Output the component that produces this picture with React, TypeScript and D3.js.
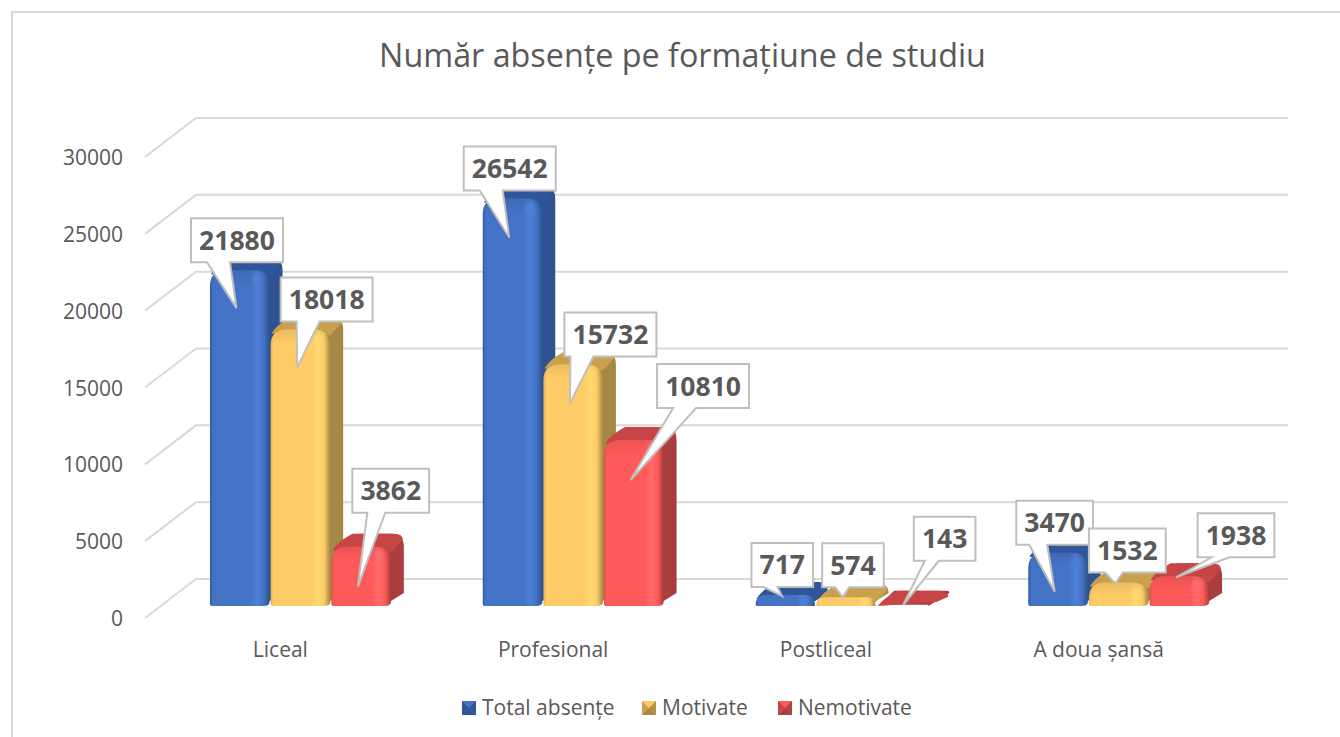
import React from 'react';
import * as d3 from 'd3';

const categories = ['Liceal', 'Profesional', 'Postliceal', 'A doua șansă'];
const seriesNames = ['Total absențe', 'Motivate', 'Nemotivate'];
const totalAbsente = [21880, 26542, 717, 3470];
const motivate = [18018, 15732, 574, 1532];
const nemotivate = [3862, 10810, 143, 1938];
const seriesValues = [totalAbsente, motivate, nemotivate];
const yTicks = [0, 5000, 10000, 15000, 20000, 25000, 30000];

// colours per series: front, side, top, highlight, dark edge
const palette = [
  { front: '#4472c4', side: '#2f5290', top: '#30569a', light: '#4f80d8', edge: '#2f5aa5' },
  { front: '#ffcb66', side: '#a58844', top: '#c9a04e', light: '#ffd970', edge: '#e6b152' },
  { front: '#ff5a5a', side: '#a83e3e', top: '#c64646', light: '#ff6c6c', edge: '#e04c4c' },
];

// callout placement relative to each bar's front top-left corner:
// box left, box top, pointer base left, tip y. Rows follow series, columns categories.
const calloutOffsets = [
  [[-19, -52, -3, 38], [-19, -52, -3, 39], [-4, -52, 8, 1], [-12, -52, 1, 39]],
  [[10, -52, 26, 38], [21, -52, 27, 39], [6, -54, 19, 0], [0, -54, 16, 1]],
  [[21, -78, 36, 40], [53, -76, 69, 40], [37, -87, 48, 1], [48, -63, 62, 1]],
];

const font = '"Open Sans", "Noto Sans", sans-serif';
const textColor = '#595959';
const gridColor = '#d9d9d9';
const depthX = 15;
const depthY = 13;

const x0 = d3.scaleBand<string>().domain(categories).range([145, 1236]);
const yFront = d3.scaleLinear().domain([0, 30000]).range([618, 157]);
const yBar = d3.scaleLinear().domain([0, 30000]).range([606, 145.5]);
const wallDx = 51;
const wallDy = 39;

function barLeft(c: number, s: number) {
  const start = (x0(categories[c]) as number) + 65;
  const x1 = d3.scaleBand<string>().domain(seriesNames).range([start, start + 182]);
  return x1(seriesNames[s]) as number;
}
const barWidth = 59.5;

// front face with rounded top corners
function frontPath(x: number, top: number, w: number, base: number) {
  const r = Math.min(16, Math.max(base - top, 0.5));
  const p = d3.path();
  p.moveTo(x, base - 2);
  p.lineTo(x, top + r);
  p.quadraticCurveTo(x, top, x + r, top);
  p.lineTo(x + w - r, top);
  p.quadraticCurveTo(x + w, top, x + w, top + r);
  p.lineTo(x + w, Math.max(base - 3, top + r));
  p.quadraticCurveTo(x + w - 1, base, x + w - 6, base);
  p.lineTo(x + 3, base);
  p.quadraticCurveTo(x, base, x, base - 2);
  p.closePath();
  return p.toString();
}

function sidePath(x: number, top: number, w: number, base: number) {
  const r = Math.min(13, Math.max(base - top, 0.5));
  const right = x + w;
  const p = d3.path();
  p.moveTo(right - 8, base);
  p.lineTo(right + depthX - 2, base - depthY);
  p.lineTo(right + depthX - 2, top - depthY + r);
  p.quadraticCurveTo(right + depthX - 2, top - depthY, right + depthX - 2 - r, top - depthY);
  p.lineTo(x + depthX + r, top - depthY);
  p.lineTo(x + 3, Math.min(top + 1, base));
  p.lineTo(right - 8, Math.min(top + 1, base));
  p.closePath();
  return p.toString();
}

function topPath(x: number, top: number, w: number, base: number) {
  const right = x + w;
  const p = d3.path();
  p.moveTo(x + 1, Math.min(top + 4, base));
  p.quadraticCurveTo(x + 6, top - 5, x + depthX + 6, top - depthY);
  p.lineTo(right + depthX - 12, top - depthY);
  p.quadraticCurveTo(right + depthX - 3, top - depthY, right + depthX - 3, top - depthY + 6);
  p.lineTo(right, Math.min(top + 6, base - 4));
  p.closePath();
  return p.toString();
}

function calloutPath(bx: number, by: number, w: number, h: number, baseX: number, tipX: number, tipY: number) {
  const baseW = w > 80 ? 23 : w > 70 ? 18 : 14;
  const p = d3.path();
  p.moveTo(bx, by);
  p.lineTo(bx + w, by);
  p.lineTo(bx + w, by + h);
  p.lineTo(baseX + baseW, by + h);
  p.lineTo(tipX, tipY);
  p.lineTo(baseX, by + h);
  p.lineTo(bx, by + h);
  p.closePath();
  return p.toString();
}

export default function App() {
  return (
    <svg
      width={1340}
      height={737}
      style={{ position: 'absolute', left: 0, top: 0, background: '#fff' }}
      fontFamily={font}
    >
      <defs>
        {palette.map((c, i) => (
          <React.Fragment key={i}>
            <linearGradient id={`front${i}`} x1="0" x2="1" y1="0" y2="0">
              <stop offset="0" stopColor={c.edge} />
              <stop offset="0.05" stopColor={c.front} />
              <stop offset="0.68" stopColor={c.front} />
              <stop offset="0.8" stopColor={c.light} />
              <stop offset="0.9" stopColor={c.front} />
              <stop offset="1" stopColor={c.side} />
            </linearGradient>
            <radialGradient id={`spot${i}`}>
              <stop offset="0" stopColor={c.light} />
              <stop offset="0.5" stopColor={c.light} stopOpacity={0.6} />
              <stop offset="1" stopColor={c.light} stopOpacity={0} />
            </radialGradient>
          </React.Fragment>
        ))}
        <linearGradient id="topShade" x1="0" x2="0" y1="0" y2="1">
          <stop offset="0" stopColor="#000" stopOpacity={0.08} />
          <stop offset="1" stopColor="#000" stopOpacity={0} />
        </linearGradient>
      </defs>

      {/* chart frame, only left and top show in the crop */}
      <path d="M12,737V12H1340" fill="none" stroke={gridColor} strokeWidth={2} />

      <text x={682.5} y={67} textAnchor="middle" fontSize={32.3} fill={textColor}>
        Număr absențe pe formațiune de studiu
      </text>

      {/* gridlines on the wall and floor */}
      {yTicks.map(t => {
        const y = yFront(t);
        return (
          <g key={t}>
            <path
              d={`M145,${y}L${145 + wallDx},${y - wallDy}H1288`}
              fill="none"
              stroke={gridColor}
              strokeWidth={2}
            />
            <text x={123} y={y + 8} textAnchor="end" fontSize={21} fill={textColor}>
              {t}
            </text>
          </g>
        );
      })}

      {categories.map(cat => (
        <text
          key={cat}
          x={(x0(cat) as number) + x0.bandwidth() / 2 - 1}
          y={657}
          textAnchor="middle"
          fontSize={21}
          fill={textColor}
        >
          {cat}
        </text>
      ))}

      {/* bars, each series painted over the side of the one before */}
      {categories.map((cat, c) =>
        seriesNames.map((name, s) => {
          const v = seriesValues[s][c];
          const x = barLeft(c, s);
          const top = yBar(v);
          const base = yBar(0);
          const cl = palette[s];
          const h = base - top;
          return (
            <g key={`${cat}-${name}`}>
              <path d={sidePath(x, top, barWidth, base)} fill={cl.side} />
              <path d={topPath(x, top, barWidth, base)} fill={cl.top} />
              {h > 4 && <path d={frontPath(x, top, barWidth, base)} fill={`url(#front${s})`} />}
              {h > 20 && (
                <>
                  <path d={frontPath(x, top, barWidth, Math.min(base, top + 14))} fill="url(#topShade)" />
                  <circle cx={x + barWidth - 12} cy={top + 9} r={7} fill={`url(#spot${s})`} />
                </>
              )}
            </g>
          );
        }),
      )}

      {/* value callouts */}
      {seriesNames.map((name, s) =>
        categories.map((cat, c) => {
          const v = seriesValues[s][c];
          const x = barLeft(c, s);
          const top = yBar(v);
          const [dx, dy, baseDx, tipDy] = calloutOffsets[s][c];
          const label = String(v);
          const w = label.length * 15.2 + 16;
          const h = 44;
          const bx = x + dx;
          const by = top + dy;
          return (
            <g key={`${name}-${cat}`}>
              <path
                d={calloutPath(bx, by, w, h, x + baseDx, x + 26.5, top + tipDy)}
                fill="#fff"
                stroke="#bfbfbf"
                strokeWidth={2}
              />
              <text
                x={bx + w / 2}
                y={by + 31.5}
                textAnchor="middle"
                fontSize={26.5}
                fontWeight={700}
                fill={textColor}
              >
                {label}
              </text>
            </g>
          );
        }),
      )}

      {/* legend */}
      {seriesNames.map((name, s) => {
        const lx = [462, 642, 778][s];
        const ly = 701;
        const size = 14;
        const cl = palette[s];
        return (
          <g key={name}>
            <rect x={lx} y={ly} width={size} height={size} fill={cl.front} />
            <path d={`M${lx},${ly}L${lx + 7},${ly + 7}L${lx},${ly + size}Z`} fill={cl.top} />
            <path d={`M${lx + size},${ly}L${lx + 7},${ly + 7}L${lx + size},${ly + size}Z`} fill={cl.side} opacity={0.85} />
            <path d={`M${lx},${ly + size}L${lx + 7},${ly + 7}L${lx + size},${ly + size}Z`} fill={cl.side} />
            <text x={lx + 20} y={ly + 14} fontSize={21} fill={textColor}>
              {name}
            </text>
          </g>
        );
      })}
    </svg>
  );
}
